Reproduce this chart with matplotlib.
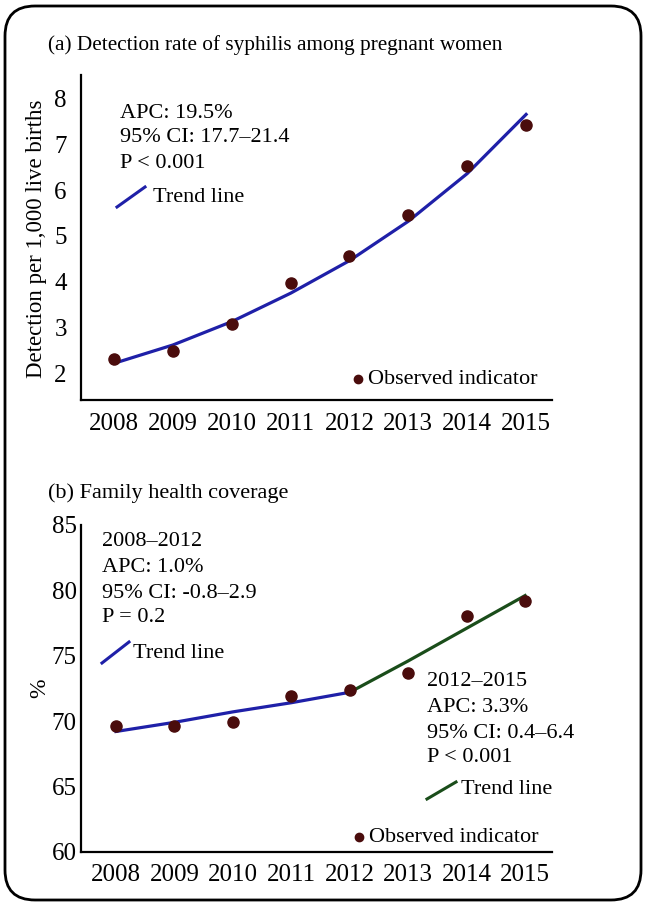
import matplotlib
matplotlib.use("Agg")
import matplotlib.pyplot as plt
from matplotlib.patches import FancyBboxPatch
from matplotlib.lines import Line2D

# ---------------- data ----------------
years = [2008, 2009, 2010, 2011, 2012, 2013, 2014, 2015]
year_labels = ["2008", "2009", "2010", "2011", "2012", "2013", "2014", "2015"]

syphilis_observed = [2.31, 2.49, 3.08, 3.98, 4.57, 5.45, 6.53, 7.42]
syphilis_trend = [2.22, 2.62, 3.13, 3.75, 4.46, 5.32, 6.36, 7.65]
syphilis_yticks = [2, 3, 4, 5, 6, 7, 8]

coverage_observed = [69.6, 69.6, 69.9, 71.9, 72.4, 73.7, 78.0, 79.2]
trend_years_1 = [2008, 2009, 2010, 2011, 2012]
coverage_trend_1 = [69.2, 69.9, 70.7, 71.4, 72.2]
trend_years_2 = [2012, 2013, 2014, 2015]
coverage_trend_2 = [72.2, 74.6, 77.1, 79.6]
coverage_yticks = [60, 65, 70, 75, 80, 85]

# ---------------- style ----------------
W, H = 649, 907
plt.rcParams['font.family'] = ['Liberation Serif', 'DejaVu Serif']
BLUE = '#1f20a8'
GREEN = '#1a4d1a'
DOT = '#4a0c0c'
TXT = 'black'

fig = plt.figure(figsize=(W / 100, H / 100), dpi=100)
fig.patch.set_facecolor('white')


def fx(x):
    return x / W


def fy(y):
    return 1 - y / H


# rounded frame
frame = FancyBboxPatch((0.05, 0.07), 6.36, 8.94,
                       boxstyle="round,pad=0,rounding_size=0.3",
                       transform=fig.dpi_scale_trans, fill=False,
                       edgecolor='black', linewidth=2.0)
fig.patches.append(frame)


def style_axes(ax, ticks, ypad):
    for s in ['top', 'right']:
        ax.spines[s].set_visible(False)
    for s in ['left', 'bottom']:
        ax.spines[s].set_linewidth(1.6)
        ax.spines[s].set_color('black')
    ax.set_xticks(years)
    ax.set_xticklabels(year_labels)
    ax.set_yticks(ticks)
    ax.tick_params(axis='both', length=0, labelsize=18, colors=TXT)
    ax.tick_params(axis='x', pad=9)
    ax.tick_params(axis='y', pad=ypad)
    ax.set_facecolor('none')


# ---------------- panel (a) ----------------
ax_a = fig.add_axes([fx(80.7), fy(400), fx(552 - 80.7), (400 - 75) / H])
ax_a.plot(years, syphilis_trend, color=BLUE, lw=2.3, zorder=2)
ax_a.plot(years, syphilis_observed, 'o', color=DOT, ms=8, zorder=3)
ax_a.set_xlim(2007.434, 2015.44)
ax_a.set_ylim(1.42, 8.51)
style_axes(ax_a, syphilis_yticks, 10)

fig.text(fx(48), fy(45), "(a) Detection rate of syphilis among pregnant women",
         fontsize=15.3, ha='left', va='center', color=TXT)
fig.text(fx(37), fy(239), "Detection per 1,000 live births", rotation=90,
         fontsize=16.5, ha='center', va='center', color=TXT)

for txt, y in [("APC: 19.5%", 113), ("95% CI: 17.7\u201321.4", 138), ("P < 0.001", 163)]:
    fig.text(fx(120), fy(y), txt, fontsize=16, ha='left', va='center', color=TXT)
fig.add_artist(Line2D([fx(117), fx(145)], [fy(207), fy(187)], color=BLUE, lw=2.2))
fig.text(fx(153), fy(198), "Trend line", fontsize=16, ha='left', va='center', color=TXT)
fig.add_artist(Line2D([fx(358)], [fy(379)], marker='o', color=DOT, ms=6, lw=0))
fig.text(fx(368), fy(380), "Observed indicator", fontsize=16, ha='left', va='center', color=TXT)

# ---------------- panel (b) ----------------
ax_b = fig.add_axes([fx(80.7), fy(851.7), fx(552 - 80.7), (851.7 - 525) / H])
ax_b.plot(trend_years_1, coverage_trend_1, color=BLUE, lw=2.3, zorder=2)
ax_b.plot(trend_years_2, coverage_trend_2, color=GREEN, lw=2.3, zorder=2)
ax_b.plot(years, coverage_observed, 'o', color=DOT, ms=8, zorder=3)
ax_b.set_xlim(2007.396, 2015.46)
ax_b.set_ylim(60, 85)
style_axes(ax_b, coverage_yticks, 3)

fig.text(fx(48), fy(493), "(b) Family health coverage",
         fontsize=16, ha='left', va='center', color=TXT)
fig.text(fx(40), fy(688), "%", rotation=90,
         fontsize=17, ha='center', va='center', color=TXT)

for txt, y in [("2008\u20132012", 542), ("APC: 1.0%", 567),
               ("95% CI: -0.8\u20132.9", 593), ("P = 0.2", 618)]:
    fig.text(fx(102), fy(y), txt, fontsize=16, ha='left', va='center', color=TXT)
fig.add_artist(Line2D([fx(102), fx(129)], [fy(663), fy(642)], color=BLUE, lw=2.2))
fig.text(fx(133), fy(654), "Trend line", fontsize=16, ha='left', va='center', color=TXT)

for txt, y in [("2012\u20132015", 681), ("APC: 3.3%", 707),
               ("95% CI: 0.4\u20136.4", 733), ("P < 0.001", 758)]:
    fig.text(fx(427), fy(y), txt, fontsize=16, ha='left', va='center', color=TXT)
fig.add_artist(Line2D([fx(427), fx(456)], [fy(799), fy(782)], color=GREEN, lw=2.2))
fig.text(fx(461), fy(790), "Trend line", fontsize=16, ha='left', va='center', color=TXT)
fig.add_artist(Line2D([fx(359)], [fy(837)], marker='o', color=DOT, ms=6, lw=0))
fig.text(fx(369), fy(837), "Observed indicator", fontsize=16, ha='left', va='center', color=TXT)

fig.savefig("out.png", dpi=100, facecolor='white')
